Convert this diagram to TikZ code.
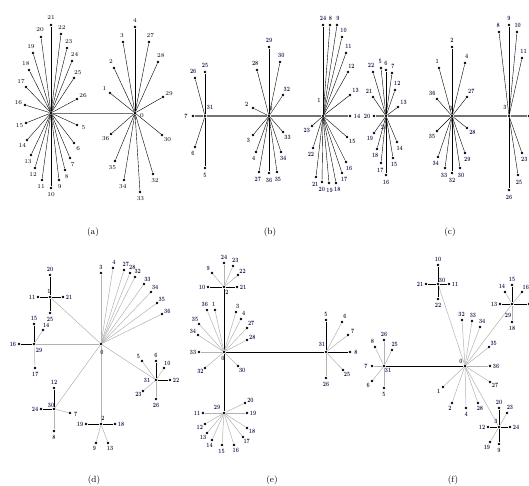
\documentclass[tikz,border=0pt]{standalone}
\usetikzlibrary{calc}
\definecolor{labnavy}{RGB}{30,30,75}
\newcommand{\narrownum}[1]{\scalebox{0.75}[1]{#1}}
\begin{document}
\begin{tikzpicture}[x=1pt, y=-1pt,
    dot/.style={circle, fill=black, inner sep=0pt, minimum size=2.8pt},
    lab/.style={inner sep=0pt, font=\fontsize{6}{6}\selectfont},
    blab/.style={inner sep=0pt, text=labnavy, font=\fontsize{6.5}{6.5}\selectfont\bfseries},
    capt/.style={inner sep=0pt, font=\fontsize{9}{10}\selectfont},
    spoke/.style={black, line width=0.4pt},
    gspoke/.style={black!30, line width=0.5pt},
    bar/.style={black, line width=1pt},
    trunk/.style={black!55, line width=1.2pt}]
  \useasboundingbox (0,0) rectangle (529,486);

  \node[dot] (aL) at (51,113) {};
  \node[dot] (aR) at (135,113) {};
  \draw[trunk, line width=0.8pt] (aL) -- (aR);
  \node[lab] (aR-t) at (142,116) {0};
  \foreach \h/\n/\x/\y in {L/21/51/25, L/22/61/34, L/23/67/48, L/24/72/61, L/25/74/78, L/26/77/99,
      L/5/77/125, L/6/74/143, L/7/70/158, L/8/65/170, L/9/59/180, L/10/51/188, L/11/42/180,
      L/12/35/168, L/13/31/155, L/14/27/140, L/15/26/123, L/16/25/105, L/17/26/87, L/18/29/70,
      L/19/33/53, L/20/41/37,
      R/4/135/27, R/3/123/42, R/27/149/42, R/2/114/68, R/28/158/62, R/1/110/93, R/29/163/97,
      R/36/111/134, R/30/162/135, R/35/115/161, R/34/124/180, R/33/140/192, R/32/153/174} {
    \node[dot] (a\n) at (\x,\y) {};
    \draw[spoke] (a\h) -- (a\n);
    \node[lab] (a\n-t) at ($(a\n)!-7pt!(a\h)$) {\n};
  }

  \node[dot] (b31) at (205,116) {};
  \node[dot] (b0) at (269,116) {};
  \node[dot] (b1) at (323,116) {};
  \draw[trunk] (b31) -- (b0) -- (b1);
  \node[blab] (b31-t) at (210,107) {\narrownum{31}};
  \node[blab] (b0-t) at (271,108) {\narrownum{0}};
  \node[blab] (b1-t) at (319,100) {\narrownum{1}};
  \foreach \h/\n/\x/\y/\s in {31/25/205/72/bar, 31/26/195/78/spoke, 31/7/193/116/trunk,
      31/6/195/147/spoke, 31/5/205/168/spoke,
      0/29/269/47/spoke, 0/28/257/70/spoke, 0/30/280/62/spoke, 0/32/283/95/spoke,
      0/2/253/108/spoke, 0/33/283/132/spoke, 0/3/253/135/spoke, 0/4/256/152/spoke,
      0/34/281/152/spoke, 0/27/259/172/spoke, 0/36/269/173/spoke, 0/35/277/172/spoke,
      1/24/323/25/bar, 1/8/330/25/spoke, 1/9/337/25/spoke, 1/10/342/37/spoke,
      1/11/346/53/spoke, 1/12/348/72/spoke, 1/13/350/95/spoke, 1/14/350/116/trunk,
      1/15/347/137/spoke, 1/16/346/162/spoke, 1/17/342/173/spoke, 1/18/336/183/spoke,
      1/19/329/183/spoke, 1/20/322/182/spoke, 1/21/316/177/spoke, 1/22/313/148/spoke,
      1/23/312/126/spoke} {
    \node[dot] (b\n) at (\x,\y) {};
    \draw[\s] (b\h) -- (b\n);
    \node[blab] (b\n-t) at ($(b\n)!-7pt!(b\h)$) {\narrownum{\n}};
  }

  \node[dot] (c24) at (386,116) {};
  \node[dot] (c0) at (452,116) {};
  \node[dot] (c3) at (509,116) {};
  \node[dot] (c3r) at (529,116) {};
  \draw[trunk] (c24) -- (c0) -- (c3) -- (c3r);
  \node[blab] (c24-t) at (384,127) {\narrownum{24}};
  \node[blab] (c0-t) at (451,108) {\narrownum{0}};
  \node[blab] (c3-t) at (505,107) {\narrownum{3}};
  \foreach \h/\n/\x/\y/\s in {24/22/373/72/spoke, 24/5/381/68/spoke, 24/6/386/70/spoke,
      24/7/392/73/spoke, 24/12/395/90/spoke, 24/21/373/97/spoke, 24/13/398/107/spoke,
      24/20/374/116/trunk, 24/19/374/133/spoke, 24/14/397/142/spoke, 24/18/377/149/spoke,
      24/15/393/158/spoke, 24/17/381/163/spoke, 24/16/386/175/spoke,
      0/2/452/47/spoke, 0/1/439/68/spoke, 0/4/465/63/spoke, 0/36/437/99/spoke,
      0/27/467/97/spoke, 0/35/437/131/spoke, 0/28/467/128/spoke, 0/34/438/157/spoke,
      0/29/465/153/spoke, 0/33/445/168/spoke, 0/32/452/173/spoke, 0/30/460/168/spoke,
      3/8/499/32/spoke, 3/9/509/25/bar, 3/10/517/32/spoke, 3/11/522/58/spoke,
      3/23/522/153/spoke, 3/25/518/175/spoke, 3/26/509/190/bar} {
    \node[dot] (c\n) at (\x,\y) {};
    \draw[\s] (c\h) -- (c\n);
    \node[blab] (c\n-t) at ($(c\n)!-7pt!(c\h)$) {\narrownum{\n}};
  }

  \node[dot] (d0) at (101,344) {};
  \node[dot] (d1) at (50,297) {};
  \node[dot] (d29) at (34,344) {};
  \node[dot] (d30) at (54,409) {};
  \node[dot] (d2) at (101,424) {};
  \node[dot] (d31) at (156,380) {};
  \foreach \h in {1,29,30,2,31}
    \draw[gspoke] (d0) -- (d\h);
  \node[blab] (d0-t) at (102,352) {\narrownum{0}};
  \node[blab] (d1-t) at (49,291) {\narrownum{1}};
  \node[blab] (d29-t) at (39,350) {\narrownum{29}};
  \node[blab] (d30-t) at (51,405) {\narrownum{30}};
  \node[blab] (d2-t) at (103,418) {\narrownum{2}};
  \node[blab] (d31-t) at (147,380) {\narrownum{31}};
  \foreach \h/\n/\x/\y/\s in {0/3/101/273/gspoke, 0/4/113/268/gspoke, 0/27/124/270/gspoke,
      0/28/130/273/gspoke, 0/32/135/277/gspoke, 0/33/144/284/gspoke, 0/34/151/292/gspoke,
      0/35/157/303/gspoke, 0/36/162/314/gspoke,
      1/20/50/275/bar, 1/11/38/297/bar, 1/21/63/297/bar, 1/25/50/313/bar,
      29/15/34/324/bar, 29/14/43/330/gspoke, 29/16/19/344/bar, 29/17/35/368/gspoke,
      30/12/54/388/bar, 30/24/41/409/bar, 30/7/70/413/gspoke, 30/8/54/431/gspoke,
      2/19/86/424/bar, 2/18/115/424/bar, 2/9/96/443/gspoke, 2/13/108/443/gspoke,
      31/5/142/361/gspoke, 31/6/156/361/bar, 31/10/164/368/gspoke, 31/22/170/380/bar,
      31/23/143/391/gspoke, 31/26/156/399/gspoke} {
    \node[dot] (d\n) at (\x,\y) {};
    \draw[\s] (d\h) -- (d\n);
    \node[blab] (d\n-t) at ($(d\n)!-6pt!(d\h)$) {\narrownum{\n}};
  }

  \node[dot] (e0) at (224,352) {};
  \node[dot] (e2) at (224,287) {};
  \node[dot] (e29) at (224,413) {};
  \node[dot] (e31) at (326,352) {};
  \draw[bar] (e2) -- (e0) -- (e29);
  \draw[bar] (e0) -- (e31);
  \node[blab] (e0-t) at (223,358) {\narrownum{0}};
  \node[blab] (e2-t) at (227,292) {\narrownum{2}};
  \node[blab] (e29-t) at (217,407) {\narrownum{29}};
  \node[blab] (e31-t) at (322,344) {\narrownum{31}};
  \foreach \h/\n/\x/\y/\s in {2/24/224/263/gspoke, 2/23/233/266/gspoke, 2/9/212/273/gspoke,
      2/22/238/275/gspoke, 2/10/208/287/bar, 2/21/237/287/bar,
      0/36/207/310/gspoke, 0/1/215/310/gspoke, 0/3/236/312/gspoke, 0/4/241/319/gspoke,
      0/27/247/328/gspoke, 0/28/247/340/gspoke, 0/35/199/324/gspoke, 0/34/198/335/gspoke,
      0/33/199/352/gspoke, 0/32/205/368/gspoke, 0/30/238/366/gspoke,
      31/5/326/320/bar, 31/6/342/322/gspoke, 31/7/348/335/gspoke, 31/8/350/352/bar,
      31/25/343/370/gspoke, 31/26/326/378/gspoke,
      29/20/245/403/gspoke, 29/19/247/413/gspoke, 29/11/203/413/gspoke, 29/12/205/424/gspoke,
      29/18/247/428/gspoke, 29/13/207/433/gspoke, 29/14/212/440/gspoke, 29/15/222/445/gspoke,
      29/16/234/445/gspoke, 29/17/243/437/gspoke} {
    \node[dot] (e\n) at (\x,\y) {};
    \draw[\s] (e\h) -- (e\n);
    \node[blab] (e\n-t) at ($(e\n)!-6pt!(e\h)$) {\narrownum{\n}};
  }

  \node[dot] (f0) at (465,366) {};
  \node[dot] (f31) at (384,366) {};
  \node[dot] (f30) at (438,284) {};
  \node[dot] (f29) at (512,304) {};
  \node[dot] (f3) at (499,427) {};
  \node[dot] (f29r) at (529,304) {};
  \draw[bar] (f31) -- (f0);
  \draw[bar] (f29) -- (f29r);
  \foreach \h in {30,29,3}
    \draw[gspoke] (f0) -- (f\h);
  \node[blab] (f0-t) at (461,361) {\narrownum{0}};
  \node[blab] (f31-t) at (388,370) {\narrownum{31}};
  \node[blab] (f30-t) at (442,280) {\narrownum{30}};
  \node[blab] (f29-t) at (508,315) {\narrownum{29}};
  \node[blab] (f3-t) at (496,421) {\narrownum{3}};
  \foreach \h/\n/\x/\y/\s in {0/32/462/320/gspoke, 0/33/472/321/gspoke, 0/34/480/327/gspoke,
      0/35/489/347/gspoke, 0/36/490/366/gspoke, 0/27/490/382/gspoke, 0/28/478/403/gspoke,
      0/4/466/408/gspoke, 0/2/452/403/gspoke, 0/1/443/387/gspoke,
      31/26/384/340/gspoke, 31/8/375/347/gspoke, 31/25/392/350/gspoke, 31/7/372/366/gspoke,
      31/6/372/381/gspoke, 31/5/384/388/gspoke,
      30/10/438/265/bar, 30/21/426/284/bar, 30/11/449/284/bar, 30/22/438/299/bar,
      29/15/512/285/bar, 29/14/505/292/gspoke, 29/16/522/292/gspoke, 29/13/500/304/bar,
      29/18/512/322/gspoke,
      3/20/499/408/bar, 3/23/507/413/gspoke, 3/12/488/427/bar, 3/24/510/427/bar,
      3/19/490/442/gspoke, 3/9/499/444/bar} {
    \node[dot] (f\n) at (\x,\y) {};
    \draw[\s] (f\h) -- (f\n);
    \node[blab] (f\n-t) at ($(f\n)!-6pt!(f\h)$) {\narrownum{\n}};
  }

  \node[capt] (cap-a) at (93,232) {(a)};
  \node[capt] (cap-b) at (270,232) {(b)};
  \node[capt] (cap-c) at (450,232) {(c)};
  \node[capt] (cap-d) at (94,480) {(d)};
  \node[capt] (cap-e) at (272,480) {(e)};
  \node[capt] (cap-f) at (453,480) {(f)};
\end{tikzpicture}
\end{document}
